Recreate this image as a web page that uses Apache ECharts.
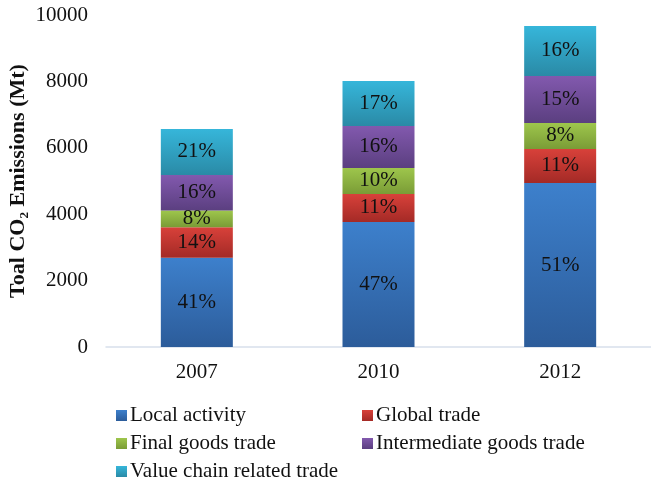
<!DOCTYPE html>
<html>
<head>
<meta charset="utf-8">
<script src="https://cdn.jsdelivr.net/npm/echarts@6/dist/echarts.min.js"></script>
<style>
  html, body { margin: 0; padding: 0; background: #fff; }
  #main { width: 651px; height: 477px; }
</style>
</head>
<body>
<div id="main"></div>
<script>
// data (Mt)
var years = ['2007', '2010', '2012'];
var seriesNames = ['Local activity', 'Global trade', 'Final goods trade', 'Intermediate goods trade', 'Value chain related trade'];
var localActivity = [2690, 3765, 4940];
var globalTrade = [920, 845, 1025];
var finalGoods = [500, 785, 785];
var intermediateGoods = [1070, 1265, 1415];
var valueChain = [1390, 1355, 1505];
// percent labels printed in the bars
var localPct = ['41%', '47%', '51%'];
var globalPct = ['14%', '11%', '11%'];
var finalPct = ['8%', '10%', '8%'];
var interPct = ['16%', '16%', '15%'];
var valuePct = ['21%', '17%', '16%'];
var yTicks = [0, 2000, 4000, 6000, 8000, 10000];

var serif = '"Liberation Serif", "Times New Roman", serif';

function grad(top, bottom) {
  return new echarts.graphic.LinearGradient(0, 0, 0, 1, [
    { offset: 0, color: top },
    { offset: 1, color: bottom }
  ]);
}

function mkSeries(name, vals, labels, c1, c2) {
  return {
    name: name,
    type: 'bar',
    stack: 'total',
    barWidth: 72,
    data: vals,
    itemStyle: { color: grad(c1, c2) },
    label: {
      show: true,
      position: 'inside',
      fontFamily: serif,
      fontSize: 21,
      color: '#111',
      formatter: function (p) { return labels[p.dataIndex]; }
    }
  };
}

var legendBase = {
  orient: 'vertical',
  top: 400,
  height: 100,
  itemWidth: 11, itemHeight: 11, itemGap: 7,
  icon: 'rect',
  textStyle: { fontFamily: serif, fontSize: 21, color: '#111', padding: [0, 0, 0, -2] }
};

var chart = echarts.init(document.getElementById('main'));
var option = {
  animation: false,
  color: ['#3A78C4', '#CC3A33', '#93BC45', '#7553A0', '#31ADD0'],
  grid: { left: 106, right: 0, top: 15, bottom: 130, outerBoundsMode: 'none' },
  xAxis: {
    type: 'category',
    data: years,
    axisLine: { lineStyle: { color: '#D8E0EC', width: 1.5 } },
    axisTick: { show: false },
    axisLabel: { fontFamily: serif, fontSize: 21, color: '#111', margin: 15 }
  },
  yAxis: {
    type: 'value',
    min: yTicks[0],
    max: yTicks[yTicks.length - 1],
    interval: 2000,
    splitLine: { show: false },
    axisLine: { show: false },
    axisTick: { show: false },
    axisLabel: {
      fontFamily: serif, fontSize: 21, color: '#111', margin: 18,
      formatter: function (v) { return String(v); }
    },
    name: 'Toal CO\u2082 Emissions (Mt)',
    nameLocation: 'middle',
    nameGap: 77,
    nameMoveOverlap: false,
    nameTextStyle: { fontFamily: serif, fontSize: 22, fontWeight: 'bold', color: '#111' }
  },
  legend: [
    Object.assign({}, legendBase, {
      data: [seriesNames[0], seriesNames[2], seriesNames[4]],
      left: 111
    }),
    Object.assign({}, legendBase, {
      data: [seriesNames[1], seriesNames[3]],
      left: 357
    })
  ],
  series: [
    mkSeries(seriesNames[0], localActivity, localPct, '#3D80CC', '#2C5C9A'),
    mkSeries(seriesNames[1], globalTrade, globalPct, '#D8413A', '#A42A26'),
    mkSeries(seriesNames[2], finalGoods, finalPct, '#9EC64C', '#7A9C36'),
    mkSeries(seriesNames[3], intermediateGoods, interPct, '#8259AE', '#5B3F80'),
    mkSeries(seriesNames[4], valueChain, valuePct, '#36B6DA', '#2A8AA6')
  ]
};
chart.setOption(option);
</script>
</body>
</html>
